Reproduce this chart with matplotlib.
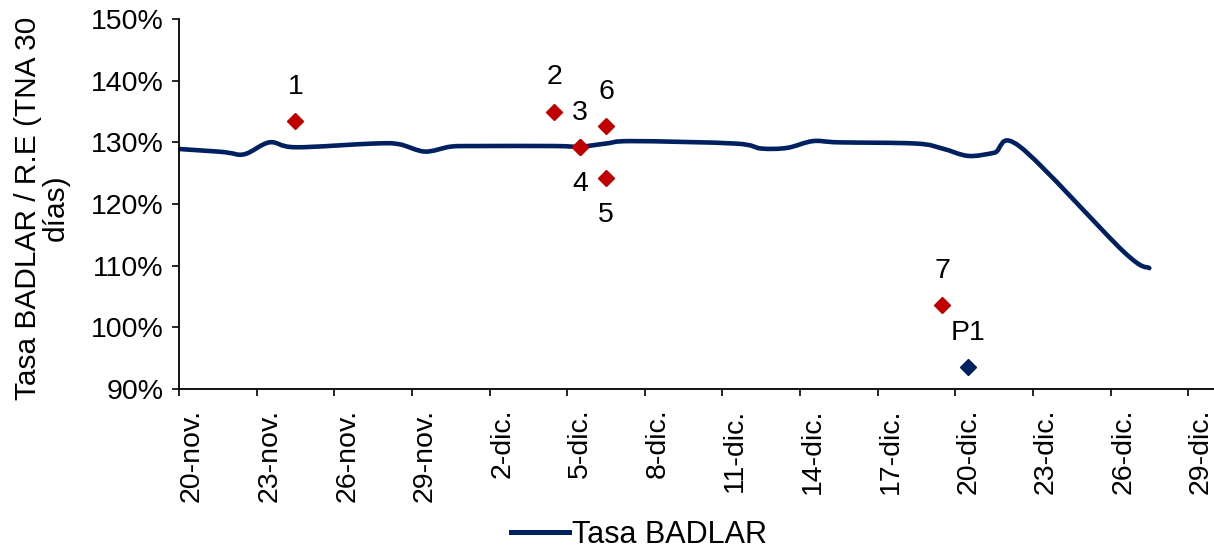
import matplotlib
matplotlib.use("Agg")
import matplotlib.pyplot as plt
from matplotlib.path import Path
from matplotlib.patches import PathPatch
from matplotlib.lines import Line2D
import matplotlib.ticker as mticker

plt.rcParams['font.family'] = ['Liberation Sans', 'DejaVu Sans']

# ---- data (days counted from 20-nov) ----
badlar_day = [-3, 1, 2, 3, 4, 7, 8, 9, 10, 11, 14, 15, 16, 17, 21, 22, 23, 24,
              25, 28, 29, 30, 31, 32, 36, 37]
badlar_val = [129.6, 128.5, 128.05, 130.0, 129.2, 129.8, 129.7, 128.5, 129.3,
              129.4, 129.4, 129.3, 129.8, 130.2, 129.8, 129.0, 129.1, 130.2,
              130.0, 129.8, 129.0, 127.8, 128.3, 129.3, 112.3, 109.6]

pts_day = [4, 14, 15, 15, 16, 16, 29]
pts_val = [133.4, 135.0, 129.2, 129.2, 124.2, 132.6, 103.7]
pts_lab = ['1', '2', '3', '4', '5', '6', '7']
pts_pos = ['above', 'above', 'above', 'below', 'below', 'above', 'above']

p1_day = [30]
p1_val = [93.5]
p1_lab = ['P1']

tick_days = list(range(0, 40, 3))
tick_labels = ['20-nov.', '23-nov.', '26-nov.', '29-nov.', '2-dic.', '5-dic.',
               '8-dic.', '11-dic.', '14-dic.', '17-dic.', '20-dic.', '23-dic.',
               '26-dic.', '29-dic.']

NAVY = '#002060'
RED = '#C00000'
OFF = 0.5  # points and labels sit in the middle of each date slot
FS = 20.5

fig = plt.figure(figsize=(12.14, 5.48), dpi=100)
ax = fig.add_axes([179 / 1214, 1 - 389 / 548, (1214 - 179) / 1214, (389 - 19) / 548])

# smooth line (Excel-style Bezier smoothing)
xs = [d + OFF for d in badlar_day]
ys = badlar_val
n = len(xs)
verts = [(xs[0], ys[0])]
codes = [Path.MOVETO]
for i in range(n - 1):
    x0, y0 = (xs[i - 1], ys[i - 1]) if i > 0 else (xs[i], ys[i])
    x3, y3 = (xs[i + 2], ys[i + 2]) if i + 2 < n else (xs[i + 1], ys[i + 1])
    c1 = (xs[i] + (xs[i + 1] - x0) / 6, ys[i] + (ys[i + 1] - y0) / 6)
    c2 = (xs[i + 1] - (x3 - xs[i]) / 6, ys[i + 1] - (y3 - ys[i]) / 6)
    verts += [c1, c2, (xs[i + 1], ys[i + 1])]
    codes += [Path.CURVE4] * 3
patch = PathPatch(Path(verts, codes), fill=False, edgecolor=NAVY, lw=3.3,
                  capstyle='round', joinstyle='round', zorder=2)
ax.add_patch(patch)

# red diamonds
ax.plot([d + OFF for d in pts_day], pts_val, linestyle='none', marker='D',
        color=RED, markersize=8.5, zorder=3)
for d, v, lab, pos in zip(pts_day, pts_val, pts_lab, pts_pos):
    dy = 34 if pos == 'above' else -37
    ax.annotate(lab, (d + OFF, v), xytext=(0, dy), textcoords='offset pixels',
                ha='center', va='center', fontsize=FS, color='black')

ax.plot([d + OFF for d in p1_day], p1_val, linestyle='none', marker='D',
        color=NAVY, markersize=8.5, zorder=3)
for d, v, lab in zip(p1_day, p1_val, p1_lab):
    ax.annotate(lab, (d + OFF, v), xytext=(0, 34), textcoords='offset pixels',
                ha='center', va='center', fontsize=FS, color='black')

ax.set_xlim(0, 40)
ax.set_ylim(90, 150)
ax.set_xticks(tick_days)
ax.set_xticklabels([])
ax.set_xticks([d + OFF for d in tick_days], minor=True)
ax.set_xticklabels(tick_labels, minor=True, rotation=90, fontsize=FS)
ax.yaxis.set_major_locator(mticker.MultipleLocator(10))
ax.yaxis.set_major_formatter(mticker.FuncFormatter(lambda v, p: f'{v:.0f}%'))
ax.tick_params(axis='y', labelsize=FS, direction='out', length=5, width=1.2, pad=6)
ax.tick_params(axis='x', which='major', direction='out', length=5, width=1.2)
ax.tick_params(axis='x', which='minor', length=0, pad=14)
for s in ['top', 'right']:
    ax.spines[s].set_visible(False)
for s in ['left', 'bottom']:
    ax.spines[s].set_linewidth(1.3)

fig.text(42 / 1214, 1 - 208 / 548, 'Tasa BADLAR / R.E (TNA 30\ndías)',
         rotation=90, ha='center', va='center', ma='center', fontsize=21.5,
         linespacing=1.0)

handle = Line2D([0], [0], color=NAVY, lw=3.6)
fig.legend([handle], ['Tasa BADLAR'], loc='center',
           bbox_to_anchor=(639 / 1214, 1 - 535 / 548), frameon=False,
           fontsize=22, handlelength=1.9, handletextpad=0.1)

fig.savefig('out.png', dpi=100)
